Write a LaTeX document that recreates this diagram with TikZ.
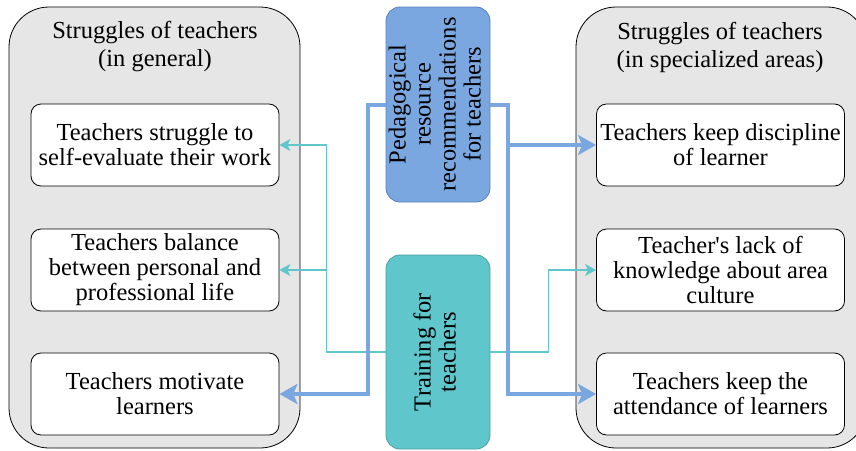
\documentclass[tikz,border=0pt]{standalone}
\usepackage{fontspec}
\setmainfont{Liberation Serif}
\usetikzlibrary{arrows.meta}
\definecolor{pedblue}{HTML}{7BA7E1}
\definecolor{pededge}{HTML}{5B80B8}
\definecolor{trainteal}{HTML}{5FC6CC}
\definecolor{trainedge}{HTML}{4A9FA4}
\definecolor{panelgray}{HTML}{E6E6E6}
\begin{document}
\begin{tikzpicture}[x=1pt,y=-1pt,
    font=\fontsize{24.5}{25}\selectfont,
    panel/.style={draw, fill=panelgray, rounded corners=40pt, minimum width=291pt, minimum height=441pt, line width=0.8pt},
    struggle/.style={draw, fill=white, rounded corners=10pt, minimum width=248pt, minimum height=82pt, align=center, inner sep=0pt, line width=0.8pt},
    helpbox/.style={rounded corners=14pt, minimum width=104pt, inner sep=0pt, line width=0.8pt},
    bluelink/.style={draw=pedblue, line width=4pt, -{Stealth[length=18pt,width=20pt,inset=4pt]}},
    teallink/.style={draw=trainteal, line width=1.2pt, -{Stealth[length=11pt,width=12pt,inset=3pt]}}]
    \useasboundingbox (0,0) rectangle (856,450);
    % the two panels
    \node[panel] (genpanel) at (154.5,227.5) {};
    \node[panel] (specpanel) at (721.5,227.5) {};
    \node[align=center] (gentitle) at (155,47) {Struggles of teachers\\[3pt](in general)};
    \node[align=center] (spectitle) at (720,47) {Struggles of teachers\\[3pt](in specialized areas)};
    % struggles
    \node[struggle] (selfeval) at (155,145) {Teachers struggle to\\self-evaluate their work};
    \node[struggle] (balance) at (155,270) {Teachers balance\\between personal and\\professional life};
    \node[struggle] (motivate) at (155,394) {Teachers motivate\\learners};
    \node[struggle] (discipline) at (720.5,145) {Teachers keep discipline\\of learner};
    \node[struggle] (culture) at (720.5,270) {Teacher\textquotesingle s lack of\\knowledge about area\\culture};
    \node[struggle] (attendance) at (720.5,394) {Teachers keep the\\attendance of learners};
    % helps
    \node[helpbox, draw=pededge, fill=pedblue, minimum height=195pt] (ped) at (438,104.5)
        {\rotatebox{90}{\begin{tabular}{@{}c@{}}Pedagogical\\resource\\recommendations\\for teachers\end{tabular}}};
    \node[helpbox, draw=trainedge, fill=trainteal, minimum height=194pt] (train) at (438,352)
        {\rotatebox{90}{\begin{tabular}{@{}c@{}}Training for\\teachers\end{tabular}}};
    % links
    \draw[teallink] (train.west) -- ++(-59,0) |- (selfeval.east);
    \draw[teallink] ([xshift=-59pt]train.west) |- (balance.east);
    \draw[teallink] (train.east) -- ++(58,0) |- (culture.west);
    \draw[bluelink] (ped.west) -- ++(-18,0) |- (motivate.east);
    \draw[bluelink] (ped.east) -- ++(18,0) |- (attendance.west);
    \draw[bluelink] ([xshift=18pt]ped.east) |- (discipline.west);
\end{tikzpicture}
\end{document}
